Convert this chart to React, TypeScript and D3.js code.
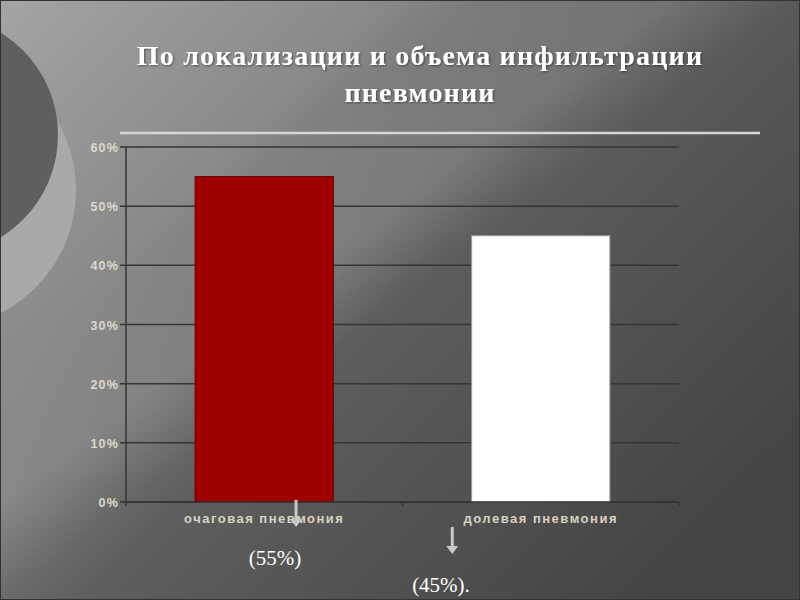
import * as d3 from "d3";

const categories = ["очаговая пневмония", "долевая пневмония"];
const values = [0.55, 0.45];
const barColors = ["#9e0000", "#ffffff"];
const yTicks = [0, 0.1, 0.2, 0.3, 0.4, 0.5, 0.6];
const titleLines = ["По локализации и объема инфильтрации", "пневмонии"];
const notes = ["(55%)", "(45%)."];

const W = 800;
const H = 600;
const margin = { top: 147, right: 121, bottom: 98, left: 126 };

export default function App() {
  const x = d3
    .scaleBand<string>()
    .domain(categories)
    .range([margin.left, W - margin.right])
    .paddingInner(0.5)
    .paddingOuter(0.25);
  const y = d3
    .scaleLinear()
    .domain([0, 0.6])
    .range([H - margin.bottom, margin.top]);
  const fmt = d3.format(".0%");
  const band = x.step();
  const x0 = margin.left;
  const x1 = W - margin.right;

  // where the arrows and notes sit
  const arrowX = [x(categories[0])! + x.bandwidth() * 0.73, x(categories[1])! - band * 0.07];
  const arrowTop = [y(0) - 2, y(0) + 25];
  const noteY = [565, 592];

  return (
    <div style={{ position: "absolute", left: 0, top: 0 }}>
      <svg width={W} height={H} style={{ display: "block" }}>
        <defs>
          <linearGradient id="bg" x1="0" y1="0" x2="1" y2="0.75">
            <stop offset="0" stopColor="#a4a4a4" />
            <stop offset="0.3" stopColor="#8a8a8a" />
            <stop offset="0.55" stopColor="#5e5e5e" />
            <stop offset="1" stopColor="#444444" />
          </linearGradient>
          <linearGradient id="streak" x1="0" y1="0" x2="1" y2="1">
            <stop offset="0.3" stopColor="#ffffff" stopOpacity="0" />
            <stop offset="0.42" stopColor="#ffffff" stopOpacity="0.12" />
            <stop offset="0.5" stopColor="#ffffff" stopOpacity="0" />
          </linearGradient>
          <filter id="sh" x="-5%" y="-20%" width="110%" height="140%">
            <feDropShadow dx="1" dy="1" stdDeviation="0.8" floodColor="#000" floodOpacity="0.45" />
          </filter>
        </defs>
        <rect width={W} height={H} fill="url(#bg)" />
        <rect width={W} height={H} fill="url(#streak)" />
        <circle cx={-62} cy={190} r={138} fill="#a9a9a9" />
        <circle cx={-62} cy={135} r={120} fill="#5f5f5f" />
        <rect x={0.5} y={0.5} width={W - 1} height={H - 1} fill="none" stroke="#333" />

        {titleLines.map((t, i) => (
          <text
            key={t}
            x={420}
            y={65 + i * 37}
            textAnchor="middle"
            fill="#ffffff"
            fontFamily="'Liberation Serif', 'DejaVu Serif', serif"
            fontWeight="bold"
            fontSize={28}
            letterSpacing={1.2}
            filter="url(#sh)"
          >
            {t}
          </text>
        ))}
        <line x1={120} x2={760} y1={133} y2={133} stroke="#d6d6d6" strokeWidth={2.5} />

        {yTicks.map((t) => (
          <g key={t}>
            <line x1={x0 - 6} x2={x1} y1={y(t)} y2={y(t)} stroke="#353535" strokeWidth={1.5} />
            <text
              x={x0 - 7}
              y={y(t) + 5}
              textAnchor="end"
              fill="#ddd8cc"
              fontFamily="'Liberation Sans', Arial, sans-serif"
              fontWeight="bold"
              fontSize={12.5}
              letterSpacing={1.2}
            >
              {fmt(t)}
            </text>
          </g>
        ))}

        {categories.map((c, i) => (
          <rect
            key={c}
            x={x(c)}
            y={y(values[i])}
            width={x.bandwidth()}
            height={y(0) - y(values[i])}
            fill={barColors[i]}
            stroke={i === 0 ? "#6a0000" : "#9a9a9a"}
            strokeWidth={1}
          />
        ))}

        <line x1={x0} x2={x0} y1={y(0.6)} y2={y(0)} stroke="#353535" strokeWidth={1.5} />
        <line x1={x0} x2={x1} y1={y(0)} y2={y(0)} stroke="#353535" strokeWidth={1.5} />
        {[0, 1, 2].map((k) => (
          <line
            key={k}
            x1={x0 + band * k}
            x2={x0 + band * k}
            y1={y(0)}
            y2={y(0) + 4}
            stroke="#353535"
            strokeWidth={1.5}
          />
        ))}

        {categories.map((c) => (
          <text
            key={c}
            x={x(c)! + x.bandwidth() / 2}
            y={y(0) + 21}
            textAnchor="middle"
            fill="#d8d2c4"
            fontFamily="'Liberation Sans', Arial, sans-serif"
            fontWeight="bold"
            fontSize={13}
            letterSpacing={1.5}
          >
            {c}
          </text>
        ))}

        {arrowX.map((ax, i) => (
          <g key={i} fill="#c8c8c8" stroke="#c8c8c8">
            <line x1={ax} x2={ax} y1={arrowTop[i]} y2={arrowTop[i] + 20} strokeWidth={3} />
            <path
              d={`M${ax - 6},${arrowTop[i] + 19} L${ax + 6},${arrowTop[i] + 19} L${ax},${arrowTop[i] + 27} Z`}
              stroke="none"
            />
          </g>
        ))}

        {notes.map((n, i) => (
          <text
            key={n}
            x={i === 0 ? 275 : 441}
            y={noteY[i]}
            textAnchor="middle"
            fill="#ffffff"
            fontFamily="'Liberation Serif', 'DejaVu Serif', serif"
            fontSize={21}
          >
            {n}
          </text>
        ))}
      </svg>
    </div>
  );
}
